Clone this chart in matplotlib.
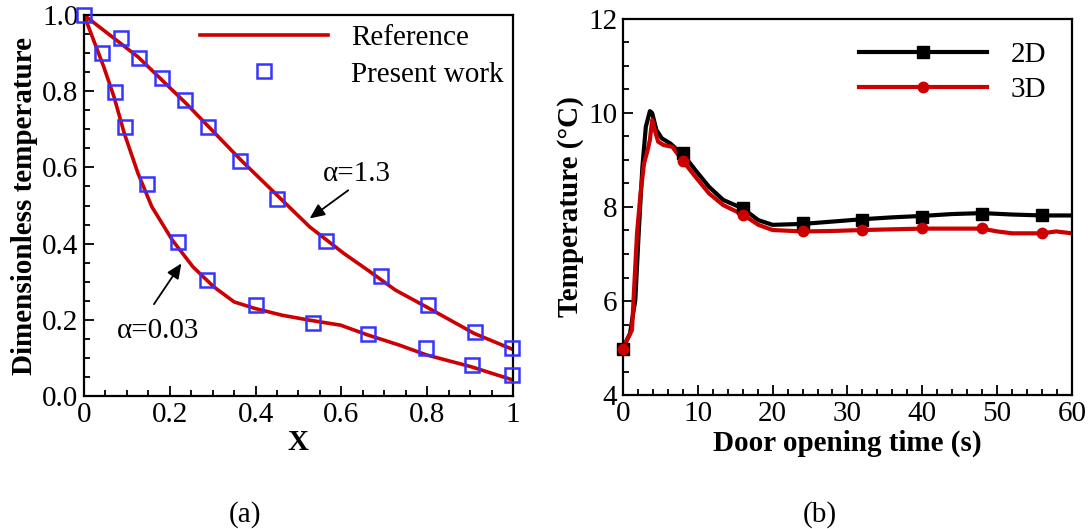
import numpy as np
import matplotlib
matplotlib.use('Agg')
import matplotlib.pyplot as plt
from matplotlib.ticker import MultipleLocator

plt.rcParams['font.family'] = ['Liberation Serif', 'DejaVu Serif']
plt.rcParams['mathtext.fontset'] = 'stix'

# (a) dimensionless temperature, reference curves
x_ref_13 = [0.0, 0.126, 0.238, 0.366, 0.43, 0.526, 0.606, 0.662, 0.726, 0.798, 0.846, 0.91, 1.0]
y_ref_13 = [1.0, 0.89, 0.768, 0.619, 0.549, 0.444, 0.374, 0.33, 0.278, 0.234, 0.204, 0.164, 0.122]
x_ref_003 = [0.0, 0.046, 0.07, 0.094, 0.126, 0.158, 0.206, 0.254, 0.302, 0.35, 0.398, 0.462,
             0.526, 0.598, 0.662, 0.734, 0.798, 0.902, 1.0]
y_ref_003 = [1.0, 0.864, 0.785, 0.689, 0.584, 0.497, 0.409, 0.339, 0.287, 0.247, 0.23, 0.212,
             0.199, 0.186, 0.160, 0.134, 0.108, 0.077, 0.042]

# present work
x_pw_13 = [0.0, 0.087, 0.129, 0.181, 0.235, 0.289, 0.364, 0.451, 0.564, 0.693, 0.802, 0.912, 0.998]
y_pw_13 = [1.0, 0.94, 0.887, 0.835, 0.776, 0.706, 0.616, 0.517, 0.407, 0.314, 0.238, 0.169, 0.127]
x_pw_003 = [0.043, 0.072, 0.095, 0.146, 0.219, 0.287, 0.402, 0.534, 0.662, 0.797, 0.905, 0.998]
y_pw_003 = [0.901, 0.798, 0.705, 0.557, 0.404, 0.304, 0.238, 0.191, 0.164, 0.127, 0.082, 0.054]

# (b) temperature vs door opening time
t_2d = [0, 0.94, 1.65, 2.1, 2.6, 3.06, 3.6, 3.9, 4.47, 5.2, 6.35, 7.3, 8, 9.65, 11.5, 13.4, 16,
        18.1, 20, 24, 28, 32, 36, 40, 44, 48, 52, 56, 60]
T_2d = [5.0, 5.31, 6.02, 7.44, 8.86, 9.71, 10.04, 10.0, 9.64, 9.46, 9.35, 9.21, 9.13, 8.79, 8.43,
        8.15, 7.97, 7.72, 7.62, 7.64, 7.69, 7.74, 7.78, 7.81, 7.85, 7.87, 7.84, 7.82, 7.82]
t_3d = [0, 1.2, 1.88, 2.35, 2.82, 3.3, 3.6, 3.9, 4.24, 4.7, 5.4, 6.6, 8, 9.65, 11.5, 13.4, 16,
        18.1, 20, 24, 28, 32, 40, 48, 50, 52, 56, 57.9, 60]
T_3d = [5.0, 5.38, 7.44, 8.29, 8.93, 9.21, 9.43, 9.85, 9.64, 9.39, 9.32, 9.28, 8.98, 8.65, 8.29,
        8.04, 7.84, 7.62, 7.51, 7.48, 7.49, 7.51, 7.54, 7.54, 7.48, 7.44, 7.44, 7.48, 7.44]
t_mark = [0, 8, 16, 24, 32, 40, 48, 56]
T_mark_2d = [4.97, 9.14, 7.97, 7.65, 7.72, 7.79, 7.85, 7.83]
T_mark_3d = [4.97, 8.98, 7.84, 7.48, 7.51, 7.55, 7.55, 7.44]

red = '#cc0000'
blue = '#3535ff'
fs = 21

fig = plt.figure(figsize=(10.91, 5.29), dpi=100)
ax1 = fig.add_axes([0.0770, 0.2514, 0.3932, 0.7202])
ax2 = fig.add_axes([0.5710, 0.2533, 0.4115, 0.7108])

for ax in (ax1, ax2):
    for s in ax.spines.values():
        s.set_linewidth(1.6)
    ax.tick_params(which='both', direction='in', top=False, right=False,
                   labelsize=fs, width=1.3)
    ax.tick_params(which='major', length=7, pad=4)
    ax.tick_params(which='minor', length=4)

# ---- (a)
ax1.plot(x_ref_13, y_ref_13, '-', color=red, lw=2.6, label='Reference', zorder=2)
ax1.plot(x_ref_003, y_ref_003, '-', color=red, lw=2.6, zorder=2)
ax1.plot(x_pw_13, y_pw_13, 's', mfc='none', mec=blue, ms=9.5, mew=1.8,
         label='Present work', zorder=3, clip_on=False)
ax1.plot(x_pw_003, y_pw_003, 's', mfc='none', mec=blue, ms=9.5, mew=1.8,
         zorder=3, clip_on=False)
ax1.set_xlim(0, 1)
ax1.set_ylim(0, 1)
ax1.xaxis.set_minor_locator(MultipleLocator(0.05))
ax1.yaxis.set_minor_locator(MultipleLocator(0.05))
ax1.set_xticks([0, 0.2, 0.4, 0.6, 0.8, 1.0])
ax1.set_xticklabels(['0', '0.2', '0.4', '0.6', '0.8', '1'])
ax1.set_yticks([0, 0.2, 0.4, 0.6, 0.8, 1.0])
ax1.set_yticklabels(['0.0', '0.2', '0.4', '0.6', '0.8', '1.0'])
ax1.set_xlabel('X', fontsize=fs, fontweight='bold', labelpad=1)
ax1.set_ylabel('Dimensionless temperature', fontsize=fs, fontweight='bold', labelpad=3)

arrow = dict(arrowstyle='-|>,head_length=0.9,head_width=0.4', color='black', lw=1.3,
             shrinkA=0, shrinkB=0)
ax1.annotate('', xy=(0.526, 0.466), xytext=(0.616, 0.540), arrowprops=arrow)
ax1.text(0.556, 0.584, 'α=1.3', fontsize=fs, ha='left', va='center')
ax1.annotate('', xy=(0.227, 0.348), xytext=(0.163, 0.241), arrowprops=arrow)
ax1.text(0.077, 0.17, 'α=0.03', fontsize=fs, ha='left', va='center')

ax1.legend(loc='upper left', bbox_to_anchor=(0.27, 0.975), frameon=False, fontsize=fs,
           handlelength=4.4, handletextpad=0.8, labelspacing=0.35, borderpad=0,
           borderaxespad=0, numpoints=1)

# ---- (b)
ax2.plot(t_2d, T_2d, '-', color='black', lw=3, zorder=2)
ax2.plot(t_3d, T_3d, '-', color=red, lw=3, zorder=2)
ax2.plot(t_mark, T_mark_2d, 's', color='black', ms=8.5, zorder=3, clip_on=False)
ax2.plot(t_mark, T_mark_3d, 'o', color=red, ms=7.5, zorder=4, clip_on=False)
# legend proxies
ax2.plot([], [], '-s', color='black', lw=3, ms=8.5, label='2D')
ax2.plot([], [], '-o', color=red, lw=3, ms=7.5, label='3D')
ax2.set_xlim(0, 60)
ax2.set_ylim(4, 12)
ax2.xaxis.set_major_locator(MultipleLocator(10))
ax2.xaxis.set_minor_locator(MultipleLocator(2))
ax2.yaxis.set_major_locator(MultipleLocator(2))
ax2.yaxis.set_minor_locator(MultipleLocator(0.5))
ax2.set_xlabel('Door opening time (s)', fontsize=fs, fontweight='bold', labelpad=2)
ax2.set_ylabel('Temperature (°C)', fontsize=fs, fontweight='bold', labelpad=3)
ax2.legend(loc='upper left', bbox_to_anchor=(0.526, 0.94), frameon=False, fontsize=fs,
           handlelength=4.4, handletextpad=0.8, labelspacing=0.3, borderpad=0,
           borderaxespad=0, numpoints=1)

fig.text(0.2246, 0.0265, '(a)', fontsize=fs, ha='center', va='center')
fig.text(0.7516, 0.0265, '(b)', fontsize=fs, ha='center', va='center')

fig.savefig('out.png', dpi=100)
